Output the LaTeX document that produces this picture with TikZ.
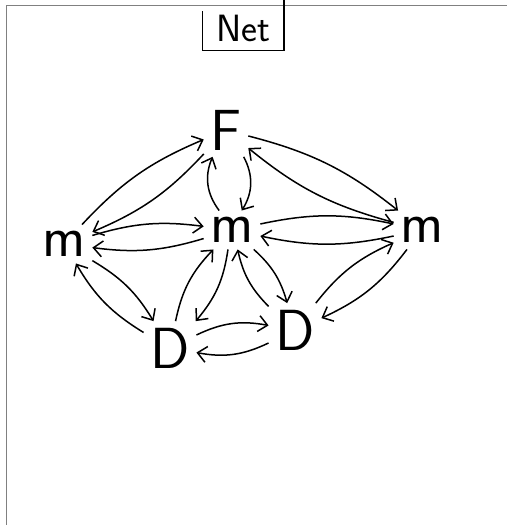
\documentclass[tikz,border=0pt]{standalone}
\usepackage{tikz}
\usetikzlibrary{positioning,arrows.meta}

\begin{document}
\begin{tikzpicture}[->, >={Straight Barb[length=9pt,width=16pt]}, line width=1.5pt, x=1pt, y=1pt,
  on grid, auto,
  lbl/.style={font=\sffamily\fontsize{58}{58}\selectfont, inner sep=6pt}]
  % page frame
  \useasboundingbox (0,0) rectangle (507,525);
  \draw[-, gray, thin] (6,0) -- (6,520) -- (507,520);

  % title tag
  \node[font=\sffamily\fontsize{38}{38}\selectfont, minimum width=80pt, minimum height=44pt] (net) at (243,497) {Net};
  \draw[-] ([yshift=-6pt]net.north west) -- (net.south west) -- (net.south east) -- ([yshift=8pt]net.north east);

  \node[lbl] (mC) at (232,295) {m};
  \node[lbl] (F) [above=100pt of mC, xshift=-6pt] {F};
  \node[lbl] (mL) [left=168pt of mC, yshift=-14pt] {m};
  \node[lbl] (mR) [right=190pt of mC] {m};
  \node[lbl] (D1) [below left=118pt and 62pt of mC] {D};
  \node[lbl] (D2) [below right=100pt and 63pt of mC] {D};

  \path (F)  edge [bend left=12] (mL)
             edge [bend left=12] (mR)
             edge [bend left=30] (mC)
        (mL) edge [bend left=12] (F)
             edge [bend left=12] (mC)
             edge [bend left=14] (D1)
        (mR) edge [bend left=12] (F)
             edge [bend left=12] (mC)
             edge [bend left=14] (D2)
        (mC) edge [bend left=30] (F)
             edge [bend left=12] (mL)
             edge [bend left=12] (mR)
             edge [bend left=16] (D1)
             edge [bend left=16] (D2)
        (D1) edge [bend left=14] (mL)
             edge [bend left=16] (mC)
             edge [bend left=18] (D2)
        (D2) edge [bend left=14] (mR)
             edge [bend left=16] (mC)
             edge [bend left=18] (D1);
\end{tikzpicture}
\end{document}
